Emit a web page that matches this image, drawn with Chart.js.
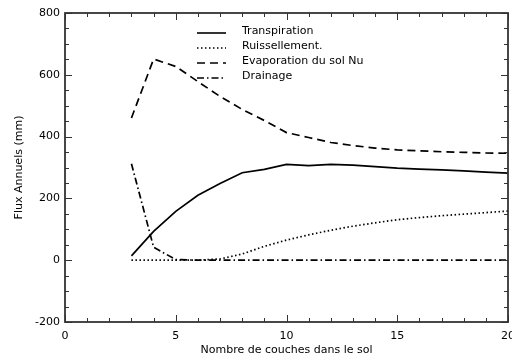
<!DOCTYPE html>
<html>
<head>
<meta charset="utf-8">
<script src="https://cdn.jsdelivr.net/npm/chart.js@4.4.0/dist/chart.umd.min.js"></script>
<style>
  html, body { margin: 0; padding: 0; background: #fff; }
  #wrap { width: 512px; height: 358px; }
</style>
</head>
<body>
<div id="wrap"><canvas id="fluxChart"></canvas></div>
<script>
// Nombre de couches
const couches = [3, 4, 5, 6, 7, 8, 9, 10, 11, 12, 13, 14, 15, 16, 17, 18, 19, 20];

// Flux annuels (mm)
const transpiration = [14, 93, 158, 210, 248, 283, 294, 310, 306, 310, 308, 303, 298, 295, 292, 289, 285, 282];
const ruissellement = [0, 0, 0, 0, 4, 20, 45, 65, 82, 97, 110, 121, 131, 138, 144, 149, 154, 159];
const evaporation = [460, 651, 627, 578, 530, 488, 452, 413, 397, 381, 371, 363, 357, 354, 351, 349, 347, 346];
const drainage = [312, 42, 2, 0, 0, 0, 0, 0, 0, 0, 0, 0, 0, 0, 0, 0, 0, 0];

const seriesNames = ['Transpiration', 'Ruissellement.', 'Evaporation du sol Nu', 'Drainage'];
const seriesDash = [[], [1.5, 2.5], [8, 5], [7, 3, 1.5, 3]];

const FONT = "'DejaVu Sans', sans-serif";

function toPoints(values) {
    return couches.map((x, i) => ({ x: x, y: values[i] }));
}

// frame, inward ticks and legend drawn like the IDL plot
const idlFrame = {
    id: 'idlFrame',
    afterDraw(chart) {
        const ctx = chart.ctx;
        const a = chart.chartArea;
        const xs = chart.scales.x;
        const ys = chart.scales.y;
        ctx.save();
        ctx.strokeStyle = '#333';
        ctx.lineWidth = 1.8;
        ctx.strokeRect(a.left, a.top, a.right - a.left, a.bottom - a.top);

        ctx.lineWidth = 1;
        ctx.beginPath();
        for (let v = 0; v <= 20; v++) {
            const px = Math.round(xs.getPixelForValue(v)) + 0.5;
            const len = v % 5 === 0 ? 7 : 4;
            ctx.moveTo(px, a.bottom); ctx.lineTo(px, a.bottom - len);
            ctx.moveTo(px, a.top); ctx.lineTo(px, a.top + len);
        }
        for (let v = -200; v <= 800; v += 50) {
            const py = Math.round(ys.getPixelForValue(v)) + 0.5;
            const len = v % 200 === 0 ? 7 : 4;
            ctx.moveTo(a.left, py); ctx.lineTo(a.left + len, py);
            ctx.moveTo(a.right, py); ctx.lineTo(a.right - len, py);
        }
        ctx.stroke();

        // legend
        ctx.font = '11px ' + FONT;
        ctx.fillStyle = '#000';
        ctx.textBaseline = 'middle';
        ctx.lineWidth = 1.6;
        ctx.strokeStyle = '#000';
        seriesNames.forEach((name, i) => {
            const y = 33 + i * 15;
            ctx.setLineDash(seriesDash[i]);
            ctx.beginPath();
            ctx.moveTo(197, y);
            ctx.lineTo(226, y);
            ctx.stroke();
            ctx.setLineDash([]);
            ctx.fillText(name, 242, y - 2);
        });
        ctx.restore();
    }
};

const datasets = [transpiration, ruissellement, evaporation, drainage].map((vals, i) => ({
    label: seriesNames[i],
    data: toPoints(vals),
    borderColor: '#000',
    borderWidth: 1.7,
    borderDash: seriesDash[i],
    pointRadius: 0,
    tension: 0,
    fill: false
}));

new Chart(document.getElementById('fluxChart'), {
    type: 'line',
    data: { datasets: datasets },
    plugins: [idlFrame],
    options: {
        responsive: true,
        maintainAspectRatio: false,
        animation: false,
        layout: { padding: { left: 0, right: 4, top: 13, bottom: 0 } },
        plugins: {
            legend: { display: false },
            tooltip: { enabled: false }
        },
        scales: {
            x: {
                type: 'linear',
                min: 0,
                max: 20,
                grid: { display: false, drawTicks: false },
                border: { display: false },
                ticks: {
                    stepSize: 5,
                    color: '#000',
                    font: { family: FONT, size: 11 },
                    padding: 8,
                    maxRotation: 0
                },
                title: {
                    display: true,
                    text: 'Nombre de couches dans le sol',
                    color: '#000',
                    font: { family: FONT, size: 11 },
                    padding: { top: 0, bottom: 1 }
                },
                afterFit(scale) {
                    scale.height = 36;
                    scale.paddingLeft = 0;
                    scale.paddingRight = 0;
                }
            },
            y: {
                min: -200,
                max: 800,
                grid: { display: false, drawTicks: false },
                border: { display: false },
                ticks: {
                    stepSize: 200,
                    color: '#000',
                    font: { family: FONT, size: 11 },
                    padding: 5
                },
                title: {
                    display: true,
                    text: 'Flux Annuels (mm)',
                    color: '#000',
                    font: { family: FONT, size: 11 },
                    padding: { top: 13, bottom: 0 }
                },
                afterFit(scale) {
                    scale.width = 65;
                    scale.paddingTop = 0;
                    scale.paddingBottom = 0;
                }
            }
        }
    }
});
</script>
</body>
</html>
